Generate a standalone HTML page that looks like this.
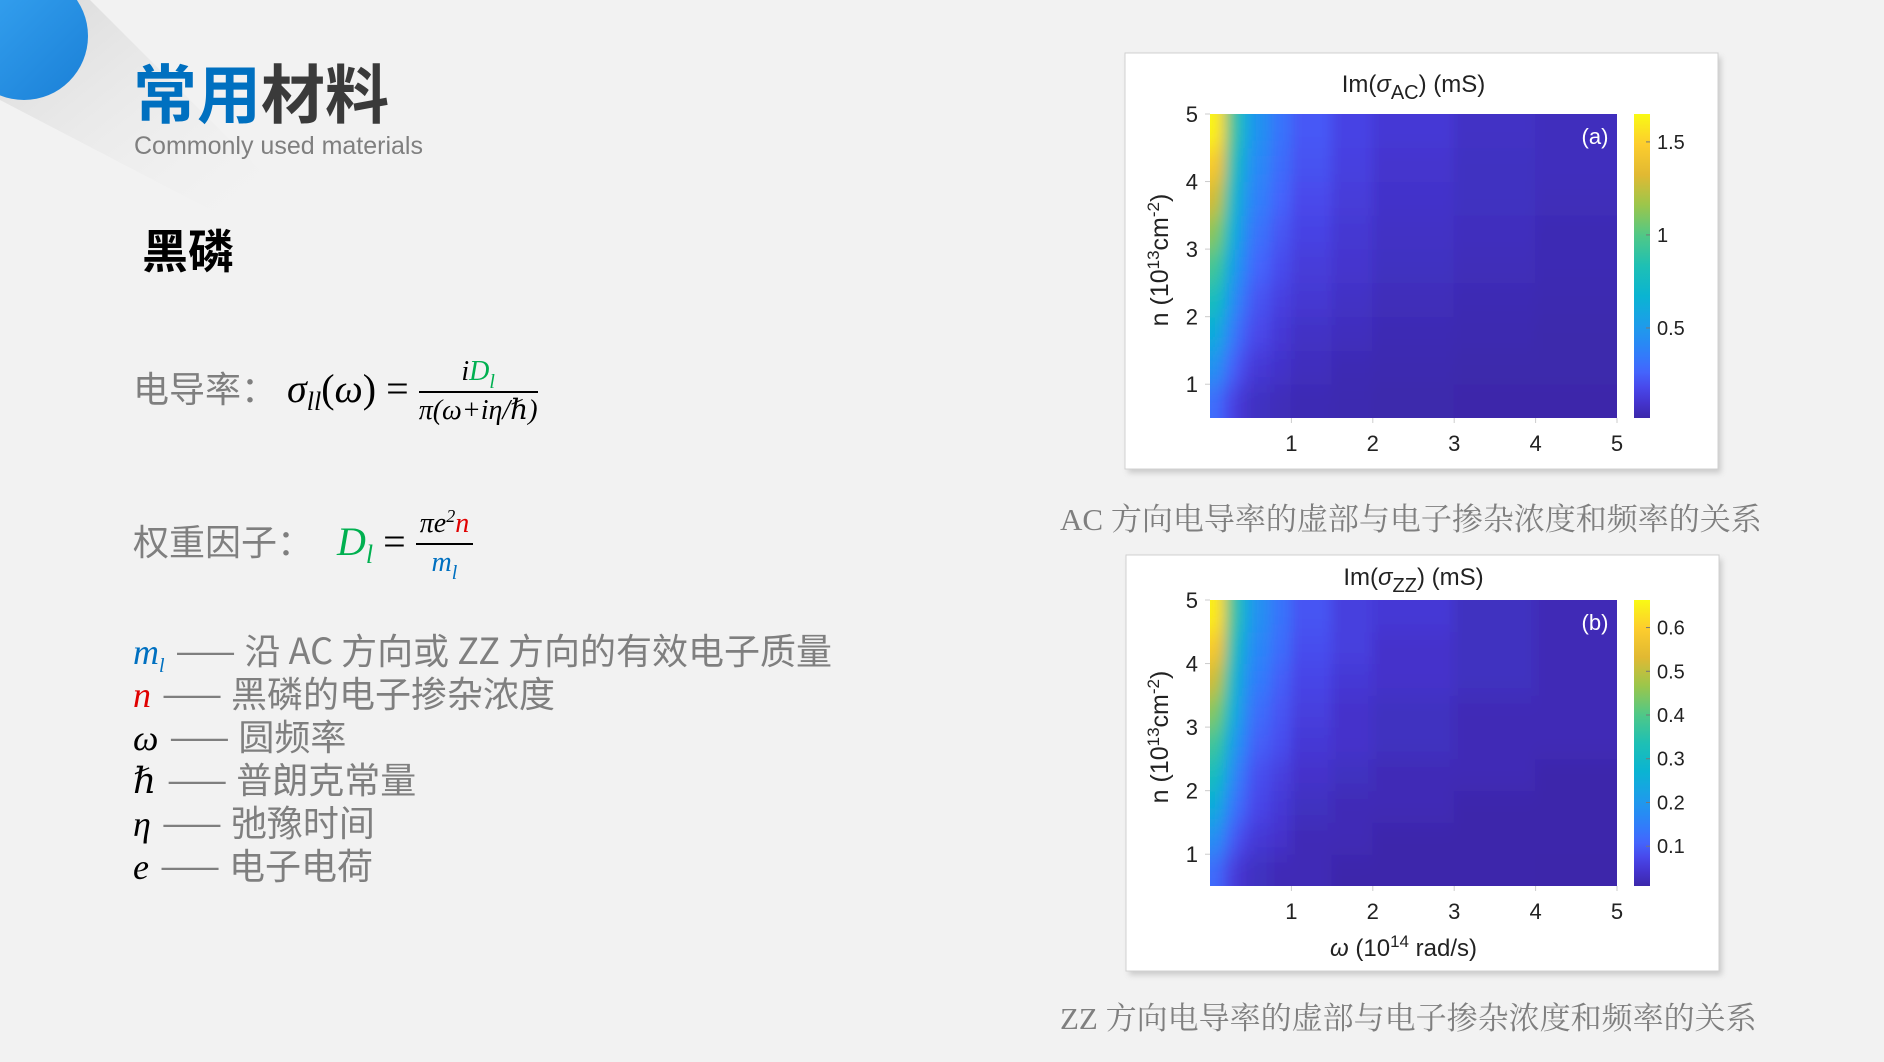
<!DOCTYPE html>
<html><head><meta charset="utf-8"><style>
body{margin:0;width:1884px;height:1062px;background:#f2f2f2;overflow:hidden;position:relative;font-family:"Liberation Sans","Noto Sans CJK SC",sans-serif}
.abs{position:absolute;white-space:nowrap}
.g{color:#7f7f7f}
.m{font-family:"Liberation Serif","DejaVu Serif",serif;font-style:italic;color:#000}
.frac{display:inline-block;vertical-align:middle;text-align:center;line-height:34px}
.frac .num{display:block;border-bottom:2px solid #000;padding:0 4px;font-size:28px;line-height:34px}
.frac .den{display:block;font-size:28px;line-height:36px}
.sb{font-size:20px;position:relative;top:8px}
.sp{font-size:18px;position:relative;top:-10px}
.row{height:43px;line-height:43px}
.d{display:inline-block;width:80px;text-align:center;letter-spacing:-2px}
</style></head><body>
<svg class="abs" style="left:0;top:0" width="400" height="300">
<defs><linearGradient id="sh" x1="0" y1="0" x2="1" y2="1"><stop offset="0" stop-color="#d8d8d8"/><stop offset="1" stop-color="#f2f2f2" stop-opacity="0"/></linearGradient>
<linearGradient id="bl" x1="0" y1="0" x2="1" y2="1"><stop offset="0" stop-color="#3aa8f5"/><stop offset="1" stop-color="#1a7fd6"/></linearGradient></defs>
<polygon points="40,0 90,0 280,190 230,220 0,100 0,60" fill="url(#sh)"/>
<circle cx="24" cy="36" r="64" fill="url(#bl)"/>
</svg>
<div class="abs" style="left:133px;top:56px;font-size:64px;font-weight:bold;line-height:70px;font-family:'Noto Sans CJK SC',sans-serif"><span style="color:#0070c0">常用</span><span style="color:#3a3a3a">材料</span></div>
<div class="abs g" style="left:134px;top:132px;font-size:25px">Commonly used materials</div>
<div class="abs" style="left:142px;top:216px;font-size:46px;font-weight:bold;font-family:'Noto Sans CJK SC',sans-serif;color:#000">黑磷</div>

<div class="abs" style="left:133px;top:352px;font-size:36px;line-height:70px;height:70px">
<span class="g" style="font-family:'Noto Sans CJK SC',sans-serif">电导率：</span>
<span class="m" style="font-size:40px">σ<span class="sb" style="font-size:26px">ll</span><span style="font-style:normal">(</span>ω<span style="font-style:normal">) =</span></span>
<span class="frac m"><span class="num">i<span style="color:#00b050">D<span class="sb">l</span></span></span><span class="den">π(ω+iη/ℏ)</span></span>
</div>
<div class="abs" style="left:133px;top:505px;font-size:36px;line-height:70px;height:70px">
<span class="g" style="font-family:'Noto Sans CJK SC',sans-serif">权重因子：</span>
<span class="m" style="font-size:40px;color:#00b050;margin-left:14px">D<span class="sb" style="font-size:26px">l</span></span><span class="m" style="font-size:40px;font-style:normal"> = </span>
<span class="frac m"><span class="num">πe<span class="sp">2</span><span style="color:#e00000">n</span></span><span class="den" style="color:#0070c0">m<span class="sb">l</span></span></span>
</div>
<div class="abs" style="left:133px;top:628px;font-size:36px;font-family:'Noto Sans CJK SC',sans-serif">
<div class="row"><span class="m" style="color:#0070c0">m<span class="sb">l</span></span><span class="g"><span class="d">——</span>沿 AC 方向或 ZZ 方向的有效电子质量</span></div>
<div class="row"><span class="m" style="color:#e00000">n</span><span class="g"><span class="d">——</span>黑磷的电子掺杂浓度</span></div>
<div class="row"><span class="m">ω</span><span class="g"><span class="d">——</span>圆频率</span></div>
<div class="row"><span class="m">ℏ</span><span class="g"><span class="d">——</span>普朗克常量</span></div>
<div class="row"><span class="m">η</span><span class="g"><span class="d">——</span>弛豫时间</span></div>
<div class="row"><span class="m">e</span><span class="g"><span class="d">——</span>电子电荷</span></div>
</div>
<div class="abs g" style="left:1060px;top:494px;font-size:31px;font-family:'Liberation Serif','Noto Serif CJK SC',serif">AC 方向电导率的虚部与电子掺杂浓度和频率的关系</div>
<div class="abs g" style="left:1060px;top:993px;font-size:31px;font-family:'Liberation Serif','Noto Serif CJK SC',serif">ZZ 方向电导率的虚部与电子掺杂浓度和频率的关系</div>

<svg id="ch" class="abs" style="left:0;top:0" width="1884" height="1062" font-family="Liberation Sans, sans-serif"></svg>
<script>
const omegaEdges=[0,0.1,0.2,0.35,0.5,0.75,1,1.5,2,3,4,5];
const nEdges=[0.5,1,1.5,2,2.5,3,3.5,4,4.5,5];
const xTicks=[1,2,3,4,5];
const yTicks=[1,2,3,4,5];
const valuesAC=[
[0.30,0.25,0.16,0.10,0.07,0.05,0.04,0.03,0.02,0.01,0.01],
[0.46,0.40,0.26,0.17,0.12,0.09,0.06,0.04,0.03,0.02,0.02],
[0.62,0.55,0.36,0.24,0.17,0.12,0.08,0.06,0.04,0.03,0.02],
[0.79,0.71,0.46,0.31,0.21,0.15,0.11,0.08,0.05,0.04,0.03],
[0.96,0.87,0.56,0.38,0.26,0.19,0.13,0.10,0.07,0.05,0.04],
[1.13,1.03,0.67,0.45,0.31,0.22,0.16,0.11,0.08,0.06,0.04],
[1.30,1.18,0.77,0.51,0.36,0.26,0.18,0.13,0.09,0.07,0.05],
[1.47,1.34,0.87,0.58,0.40,0.29,0.21,0.15,0.10,0.07,0.06],
[1.64,1.50,0.97,0.65,0.45,0.32,0.23,0.16,0.12,0.08,0.06]];
const valuesZZ=[
[0.12,0.10,0.06,0.04,0.03,0.02,0.02,0.01,0.01,0.01,0.00],
[0.18,0.16,0.10,0.07,0.05,0.04,0.02,0.02,0.01,0.01,0.01],
[0.25,0.22,0.14,0.10,0.07,0.05,0.03,0.02,0.02,0.01,0.01],
[0.32,0.28,0.18,0.12,0.08,0.06,0.04,0.03,0.02,0.02,0.01],
[0.38,0.35,0.22,0.15,0.10,0.08,0.05,0.04,0.03,0.02,0.02],
[0.45,0.41,0.27,0.18,0.12,0.09,0.06,0.04,0.03,0.02,0.02],
[0.52,0.47,0.31,0.20,0.14,0.10,0.07,0.05,0.04,0.03,0.02],
[0.59,0.54,0.35,0.23,0.16,0.12,0.08,0.06,0.04,0.03,0.02],
[0.65,0.60,0.39,0.26,0.18,0.13,0.09,0.06,0.05,0.03,0.02]];
const cbTicksAC=[0.5,1,1.5];
const cbTicksZZ=[0.1,0.2,0.3,0.4,0.5,0.6];

const NS='http://www.w3.org/2000/svg';
const svg=document.getElementById('ch');
const P=[[0,[60,40,170]],[0.05,[68,52,205]],[0.1,[72,72,235]],[0.15,[68,100,252]],[0.22,[45,130,250]],[0.3,[30,155,235]],[0.4,[10,180,210]],[0.5,[30,192,180]],[0.6,[80,200,135]],[0.7,[155,198,75]],[0.8,[225,185,50]],[0.9,[253,205,45]],[1,[249,250,20]]];
function cmap(t){t=Math.max(0,Math.min(1,t));for(let i=1;i<P.length;i++){if(t<=P[i][0]){const a=P[i-1],b=P[i],f=(t-a[0])/(b[0]-a[0]);return 'rgb('+a[1].map((v,k)=>Math.round(v+(b[1][k]-v)*f)).join(',')+')';}}return 'rgb(249,250,20)';}
function el(tag,attrs,parent){const e=document.createElementNS(NS,tag);for(const k in attrs)e.setAttribute(k,attrs[k]);(parent||svg).appendChild(e);return e;}
function txt(s,x,y,size,anchor,parent,fill){const t=el('text',{x:x,y:y,'font-size':size,'text-anchor':anchor||'middle',fill:fill||'#222'},parent);t.innerHTML=s;return t;}

function panel(id,fx,fy,fw,fh,px,py,pw,ph,vals,cmin,cmax,cbTicks,title,titleDy,label,xlabel){
  const g=el('g',{});
  
  
  el('rect',{x:fx+3,y:fy+4,width:fw,height:fh,fill:'#b0b0b0',opacity:0.6,filter:'url(#blr)'},g);
  const fr=el('rect',{x:fx,y:fy,width:fw,height:fh,fill:'#fff',stroke:'#d0d0d0'},g);
  
  
  const xs=v=>px+v/5*pw;
  const ys=v=>py+ph-(v-0.5)/4.5*ph;
  const cl=el('clipPath',{id:'cl'+id},g);el('rect',{x:px,y:py,width:pw,height:ph},cl);
  const outer=el('g',{'clip-path':'url(#cl'+id+')'},g);
  const hm=el('g',{filter:'url(#sm)'},outer);
  
  
  const R=vals.length,C=vals[0].length,pad=40;
  for(let r=0;r<R;r++)for(let c=0;c<C;c++){
    let x0=xs(omegaEdges[c]),x1=xs(omegaEdges[c+1]),y0=ys(nEdges[r+1]),y1=ys(nEdges[r]);
    if(c===0)x0-=pad; if(c===C-1)x1+=pad; if(r===0)y1+=pad; if(r===R-1)y0-=pad;
    const cell=el('rect',{x:x0-0.5,y:y0-0.5,width:x1-x0+1,height:y1-y0+1,fill:cmap((vals[r][c]-cmin)/(cmax-cmin))},hm);
    
    
  }
  xTicks.forEach(t=>{el('line',{x1:xs(t),x2:xs(t),y1:py+ph,y2:py+ph+5,stroke:'#ccc'},g);const l=txt(String(t),xs(t),py+ph+33,22,'middle',g);});
  yTicks.forEach(t=>{el('line',{x1:px-5,x2:px,y1:ys(t),y2:ys(t),stroke:'#ccc'},g);const l=txt(String(t),px-12,ys(t)+8,22,'end',g);});
  const cbx=px+pw+17,cbw=16;
  const gr=el('linearGradient',{id:'cg'+id,x1:0,y1:1,x2:0,y2:0},g);
  for(let i=0;i<=20;i++)el('stop',{offset:i/20,'stop-color':cmap(i/20)},gr);
  const cb=el('rect',{x:cbx,y:py,width:cbw,height:ph,fill:'url(#cg'+id+')'},g);
  
  
  cbTicks.forEach(t=>{const y=py+ph-(t-cmin)/(cmax-cmin)*ph;el('line',{x1:cbx+cbw-4,x2:cbx+cbw,y1:y,y2:y,stroke:'#777'},g);const l=txt(String(t),cbx+cbw+7,y+7,20,'start',g);});
  const tt=txt(title,px+pw/2,py-titleDy,24,'middle',g);
  const lb=txt(label,px+pw-22,py+30,22,'middle',g,'#fff');
  const yl=el('text',{x:0,y:0,'font-size':25,'text-anchor':'middle',fill:'#222',transform:'translate('+(px-42)+','+(py+ph/2-6)+') rotate(-90)'},g);
  yl.innerHTML='n (10<tspan dy="-9" font-size="17">13</tspan><tspan dy="9">cm</tspan><tspan dy="-9" font-size="17">-2</tspan><tspan dy="9">)</tspan>';
  
  if(xlabel){const xl=txt(xlabel,px+pw/2-10,py+ph+70,24,'middle',g);}
}
const defs=el('defs',{});
const f1=el('filter',{id:'sm',x:'-10%',y:'-10%',width:'120%',height:'120%'},defs);el('feGaussianBlur',{stdDeviation:'6 12'},f1);
const f2=el('filter',{id:'blr'},defs);el('feGaussianBlur',{stdDeviation:3},f2);
panel('a',1125,53,593,416,1210,114,407,304,valuesAC,0.016,1.65,cbTicksAC,'Im(<tspan font-style="italic">σ</tspan><tspan dy="7" font-size="20">AC</tspan><tspan dy="-7">) (mS)</tspan>',22,'(a)',null);
panel('b',1126,555,593,416,1210,600,407,286,valuesZZ,0.009,0.663,cbTicksZZ,'Im(<tspan font-style="italic">σ</tspan><tspan dy="7" font-size="20">ZZ</tspan><tspan dy="-7">) (mS)</tspan>',15,'(b)','<tspan font-style="italic">ω</tspan> (10<tspan dy="-9" font-size="17">14</tspan><tspan dy="9"> rad/s)</tspan>');
</script>
</body></html>
